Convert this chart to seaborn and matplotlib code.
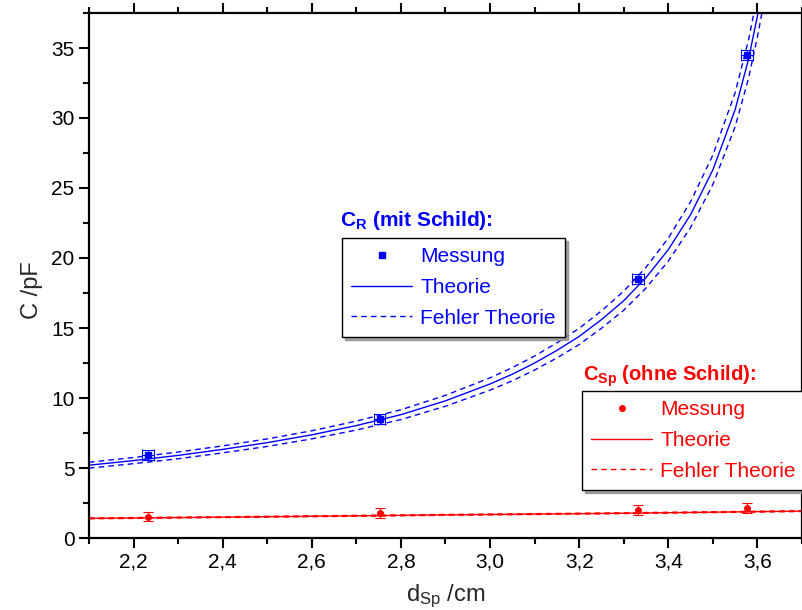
import numpy as np
import pandas as pd
import seaborn as sns
import matplotlib.pyplot as plt
from matplotlib.ticker import MultipleLocator, FuncFormatter
from matplotlib.lines import Line2D

# Messwerte
d_mess = [2.233, 2.752, 3.332, 3.577]
c_r_mess = [5.93, 8.5, 18.5, 34.5]
c_r_xerr = [0.013, 0.013, 0.013, 0.013]
c_r_yerr = [0.35, 0.35, 0.35, 0.35]
c_sp_mess = [1.52, 1.78, 2.0, 2.14]
c_sp_yerr = [0.33, 0.33, 0.33, 0.33]

# Theoriekurven
d_theo_r = [2.1, 2.2, 2.3, 2.4, 2.5, 2.6, 2.7, 2.8, 2.9, 3.0, 3.05, 3.1, 3.15, 3.2,
            3.25, 3.3, 3.35, 3.4, 3.45, 3.5, 3.55, 3.58, 3.6, 3.62]
c_r_theo = [5.2, 5.53, 5.9, 6.33, 6.81, 7.37, 8.03, 8.81, 9.8, 11.0, 11.7, 12.5, 13.4, 14.4,
            15.6, 16.95, 18.6, 20.6, 23.1, 26.3, 30.6, 34.2, 37.3, 40.8]
c_r_hi = [5.41, 5.75, 6.14, 6.58, 7.08, 7.66, 8.35, 9.16, 10.19, 11.44, 12.17, 13.0, 13.94, 14.98,
          16.22, 17.63, 19.34, 21.42, 24.02, 27.35, 31.82, 35.57, 38.79, 42.43]
c_r_lo = [4.99, 5.31, 5.66, 6.08, 6.54, 7.08, 7.71, 8.46, 9.41, 10.56, 11.23, 12.0, 12.86, 13.82,
          14.98, 16.27, 17.86, 19.78, 22.18, 25.25, 29.38, 32.83, 35.81, 39.17]

d_theo_sp = [2.1, 2.5, 2.9, 3.3, 3.7]
c_sp_theo = [1.40, 1.52, 1.65, 1.77, 1.92]
c_sp_hi = [1.43, 1.55, 1.68, 1.80, 1.95]
c_sp_lo = [1.37, 1.49, 1.62, 1.74, 1.89]

sns.set_style("ticks")
plt.rcParams['font.family'] = ['Liberation Sans', 'DejaVu Sans']
plt.rcParams['mathtext.fontset'] = 'custom'
plt.rcParams['mathtext.rm'] = 'Liberation Sans'
plt.rcParams['mathtext.bf'] = 'Liberation Sans:bold'

fig = plt.figure(figsize=(8.03, 6.10), dpi=100)
ax = fig.add_axes([89 / 803, 1 - 538 / 610, 713 / 803, 525 / 610])

dash = (0, (4, 3))
blue, red = '#0000ff', '#ff0000'

theo_r = pd.DataFrame({"d": d_theo_r, "c": c_r_theo, "hi": c_r_hi, "lo": c_r_lo})
theo_sp = pd.DataFrame({"d": d_theo_sp, "c": c_sp_theo, "hi": c_sp_hi, "lo": c_sp_lo})

for df, col in [(theo_r, blue), (theo_sp, red)]:
    sns.lineplot(data=df, x="d", y="c", color=col, lw=1, estimator=None, ax=ax)
    sns.lineplot(data=df, x="d", y="hi", color=col, lw=1, linestyle=dash, estimator=None, ax=ax)
    sns.lineplot(data=df, x="d", y="lo", color=col, lw=1, linestyle=dash, estimator=None, ax=ax)

ax.errorbar(d_mess, c_r_mess, xerr=c_r_xerr, yerr=c_r_yerr, fmt='s', ms=4,
            color=blue, ecolor=blue, elinewidth=0.8, capsize=4, capthick=0.8)
ax.errorbar(d_mess, c_sp_mess, yerr=c_sp_yerr, fmt='o', ms=4,
            color=red, ecolor=red, elinewidth=0.8, capsize=3.5, capthick=0.8)

ax.set_xlim(2.1, 3.7)
ax.set_ylim(0, 37.5)
ax.xaxis.set_major_locator(MultipleLocator(0.2))
ax.xaxis.set_minor_locator(MultipleLocator(0.1))
ax.yaxis.set_major_locator(MultipleLocator(5))
ax.yaxis.set_minor_locator(MultipleLocator(2.5))
ax.xaxis.set_major_formatter(FuncFormatter(lambda v, p: f"{v:.1f}".replace('.', ',')))
ax.yaxis.set_major_formatter(FuncFormatter(lambda v, p: f"{v:.0f}"))

ax.tick_params(which='both', direction='out', top=True, right=True, width=1.5,
               labelsize=15, colors='black')
ax.tick_params(which='major', length=7)
ax.tick_params(which='minor', length=4)
for s in ax.spines.values():
    s.set_visible(True)
    s.set_linewidth(1.6)
    s.set_color('black')

ax.set_xlabel(r"$\mathregular{d_{Sp}}$ /cm", fontsize=17, labelpad=8)
ax.set_ylabel("C /pF", fontsize=17)
ax.yaxis.set_label_coords(-0.064, 0.472)

# Legenden
shadow = {'ox': 2, 'oy': -2, 'color': '0.55', 'alpha': 0.8}
h_r = [Line2D([], [], color=blue, marker='s', ms=4, ls='none'),
       Line2D([], [], color=blue, lw=1),
       Line2D([], [], color=blue, lw=1, linestyle=dash)]
h_sp = [Line2D([], [], color=red, marker='o', ms=4, ls='none'),
        Line2D([], [], color=red, lw=1),
        Line2D([], [], color=red, lw=1, linestyle=dash)]
labels = ["Messung", "Theorie", "Fehler Theorie"]

leg_kw = dict(loc='upper left', fontsize=15, frameon=True, fancybox=False, framealpha=1,
              edgecolor='black', handlelength=2.9, handletextpad=0.4, labelspacing=0.56,
              borderpad=0.45, borderaxespad=0, shadow=shadow)
leg1 = fig.legend(h_r, labels, bbox_to_anchor=(342 / 803, 1 - 238 / 610), **leg_kw)
for t in leg1.get_texts():
    t.set_color(blue)
leg2 = fig.legend(h_sp, labels, bbox_to_anchor=(582 / 803, 1 - 391 / 610), **leg_kw)
for t in leg2.get_texts():
    t.set_color(red)
for leg in (leg1, leg2):
    leg.get_frame().set_linewidth(1.0)

fig.text(340 / 803, 1 - 221 / 610, r"$\mathbf{C_R}$ (mit Schild):", color=blue,
         fontsize=15, fontweight='bold', va='center', ha='left')
fig.text(583 / 803, 1 - 376 / 610, r"$\mathbf{C_{Sp}}$ (ohne Schild):", color=red,
         fontsize=14.5, fontweight='bold', va='center', ha='left')

fig.savefig("out.png", dpi=100)
